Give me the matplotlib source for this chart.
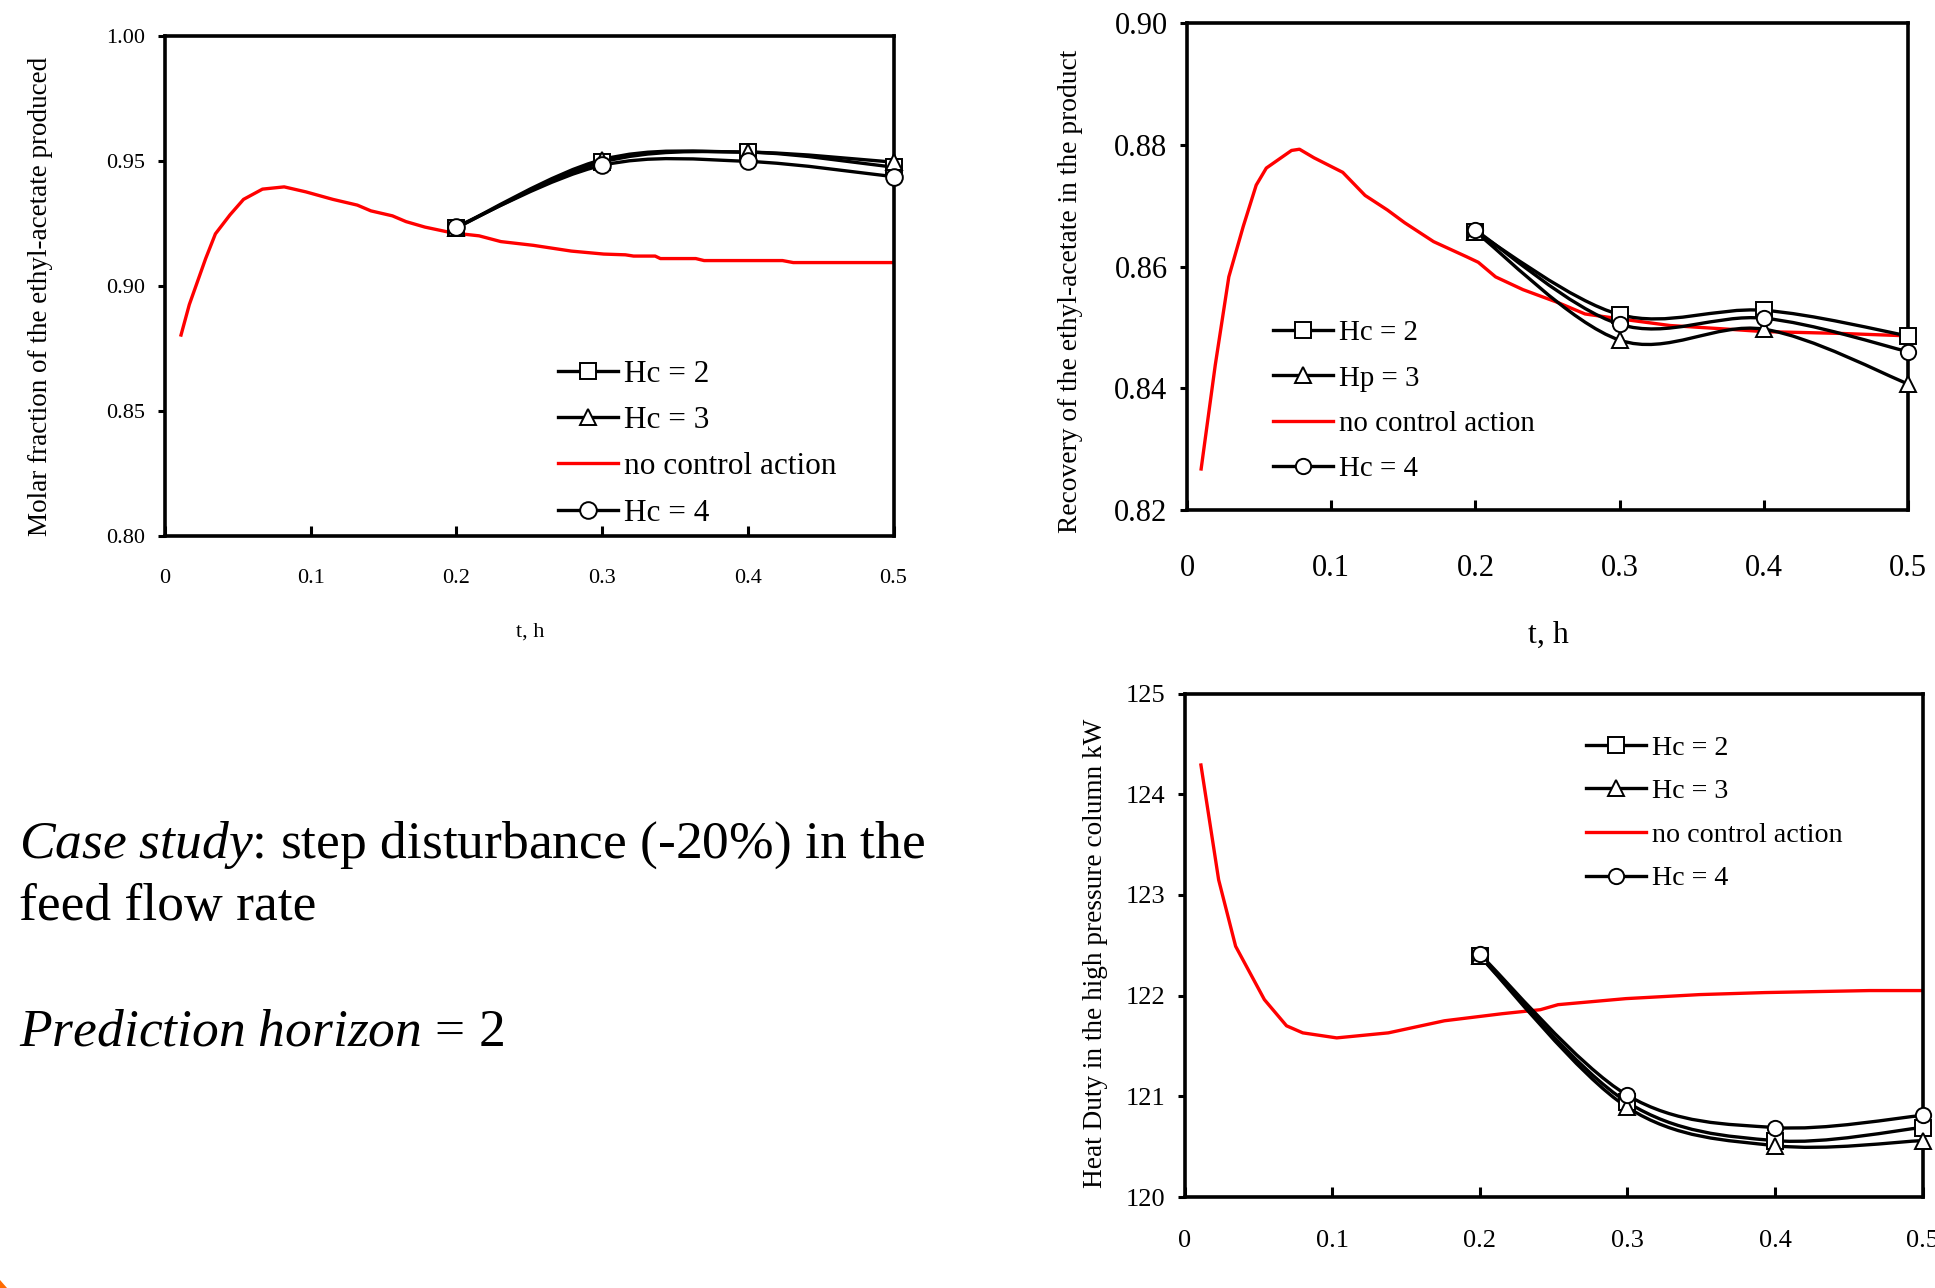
import numpy as np
import matplotlib
matplotlib.use('Agg')
import matplotlib.pyplot as plt
from matplotlib.path import Path
from matplotlib.patches import PathPatch, Polygon
from matplotlib.lines import Line2D

plt.rcParams['font.family'] = ['Liberation Serif', 'DejaVu Serif']
plt.rcParams['mathtext.fontset'] = 'custom'
plt.rcParams['mathtext.rm'] = 'Liberation Serif'
plt.rcParams['mathtext.it'] = 'Liberation Serif:italic'

# ---------------- data ----------------
t_ctrl = [0.2, 0.3, 0.4, 0.5]
x_ticks = [0, 0.1, 0.2, 0.3, 0.4, 0.5]
x_ticklabels = ['0', '0.1', '0.2', '0.3', '0.4', '0.5']

# Chart 1: molar fraction
t1_red = [0.011, 0.0167, 0.0223, 0.0279, 0.0346, 0.0446, 0.0539, 0.0669, 0.0818,
          0.0967, 0.1152, 0.132, 0.1413, 0.1561, 0.1654, 0.1784, 0.197, 0.2156,
          0.2305, 0.2528, 0.2788, 0.3011, 0.316, 0.3216, 0.3364, 0.34, 0.3643,
          0.37, 0.4238, 0.4312, 0.5]
y1_red = [0.8803, 0.8925, 0.9017, 0.9109, 0.9208, 0.9284, 0.9346, 0.9387, 0.9396,
          0.9376, 0.9346, 0.9323, 0.9300, 0.9280, 0.9257, 0.9235, 0.9212, 0.9200,
          0.9177, 0.9162, 0.9139, 0.9127, 0.9124, 0.9119, 0.9119, 0.9109, 0.9109,
          0.9101, 0.9101, 0.9093, 0.9093]
y1_hc2 = [0.9233, 0.9495, 0.9535, 0.9475]
y1_hc3 = [0.9233, 0.9505, 0.9535, 0.9495]
y1_hc4 = [0.9237, 0.9482, 0.9498, 0.9437]
y1_ticks = [0.80, 0.85, 0.90, 0.95, 1.00]
y1_ticklabels = ['0.80', '0.85', '0.90', '0.95', '1.00']

# Chart 2: recovery
t2_red = [0.0098, 0.0196, 0.029, 0.039, 0.048, 0.055, 0.0725, 0.078, 0.088, 0.108,
          0.1235, 0.139, 0.151, 0.171, 0.194, 0.202, 0.214, 0.233, 0.257, 0.276,
          0.3, 0.335, 0.375, 0.4, 0.453, 0.5]
y2_red = [0.8267, 0.8438, 0.8583, 0.8666, 0.8734, 0.8762, 0.8791, 0.8793, 0.8779,
          0.8755, 0.8717, 0.8693, 0.8672, 0.8641, 0.8616, 0.8607, 0.8583, 0.8562,
          0.8541, 0.8522, 0.8514, 0.8503, 0.8497, 0.8493, 0.8490, 0.8486]
y2_hc2 = [0.8657, 0.8521, 0.8528, 0.8486]
y2_hp3 = [0.8657, 0.8479, 0.8497, 0.8407]
y2_hc4 = [0.8660, 0.8505, 0.8515, 0.8460]
y2_ticks = [0.82, 0.84, 0.86, 0.88, 0.90]
y2_ticklabels = ['0.82', '0.84', '0.86', '0.88', '0.90']

# Chart 3: heat duty
t3_red = [0.011, 0.023, 0.0345, 0.054, 0.069, 0.08, 0.103, 0.138, 0.176, 0.215,
          0.241, 0.253, 0.299, 0.349, 0.393, 0.464, 0.5]
y3_red = [124.29, 123.15, 122.49, 121.96, 121.70, 121.63, 121.58, 121.63, 121.75,
          121.82, 121.86, 121.91, 121.97, 122.01, 122.03, 122.05, 122.05]
y3_hc2 = [122.39, 120.94, 120.56, 120.69]
y3_hc3 = [122.39, 120.89, 120.51, 120.56]
y3_hc4 = [122.41, 121.01, 120.69, 120.81]
y3_ticks = [120, 121, 122, 123, 124, 125]
y3_ticklabels = ['120', '121', '122', '123', '124', '125']

labels_1 = ['Hc = 2', 'Hc = 3', 'no control action', 'Hc = 4']
labels_2 = ['Hc = 2', 'Hp = 3', 'no control action', 'Hc = 4']
labels_3 = ['Hc = 2', 'Hc = 3', 'no control action', 'Hc = 4']

# ---------------- layout ----------------
W, H = 1935, 1288
fig = plt.figure(figsize=(W / 100, H / 100), dpi=100)
fig.patch.set_facecolor('white')


def fbox(l, t, r, b):
    return [l / W, 1 - b / H, (r - l) / W, (b - t) / H]


LW_BLACK = 2.4
LW_RED = 2.4
MEW = 1.4


def smooth_path(xs, ys):
    P = np.column_stack([xs, ys]).astype(float)
    n = len(P)
    verts = [P[0]]
    codes = [Path.MOVETO]
    for i in range(n - 1):
        p0 = P[i - 1] if i > 0 else P[i]
        p1 = P[i]
        p2 = P[i + 1]
        p3 = P[i + 2] if i + 2 < n else P[i + 1]
        verts += [p1 + (p2 - p0) / 6, p2 - (p3 - p1) / 6, p2]
        codes += [Path.CURVE4] * 3
    return Path(verts, codes)


def draw_chart(ax, t_red, y_red, series, markers, labels, ms,
               yticks, yticklabels, ylim, tick_fs, ylabel, ylabel_fs, ylab_xy,
               xlabel, xlabel_fs, xlab_xy, leg_xy, leg_fs, leg_spacing, xpad):
    ax.plot(t_red, y_red, color='#ff0000', lw=LW_RED, zorder=2)
    for ys in series:
        ax.add_patch(PathPatch(smooth_path(t_ctrl, ys), fill=False, edgecolor='black',
                               lw=LW_BLACK, zorder=3, capstyle='round'))
    for ys, m in zip(series, markers):
        ax.plot(t_ctrl, ys, ls='none', marker=m, ms=ms, mfc='white', mec='black',
                mew=MEW, zorder=4, clip_on=False)
    ax.set_xlim(0, 0.5)
    ax.set_ylim(*ylim)
    ax.set_xticks(x_ticks)
    ax.set_xticklabels(x_ticklabels)
    ax.set_yticks(yticks)
    ax.set_yticklabels(yticklabels)
    for s in ax.spines.values():
        s.set_linewidth(2.6)
    ax.tick_params(axis='x', direction='in', length=7, width=2.2, labelsize=tick_fs,
                   pad=xpad, top=False)
    ax.tick_params(axis='y', direction='out', length=5, width=2.2, labelsize=tick_fs,
                   pad=9, right=False)
    ax.set_ylabel(ylabel, fontsize=ylabel_fs, va='center')
    ax.yaxis.set_label_coords(*ylab_xy)
    ax.set_xlabel(xlabel, fontsize=xlabel_fs, va='center')
    ax.xaxis.set_label_coords(*xlab_xy)
    hs = []
    for m in markers:
        hs.append(Line2D([], [], color='black', lw=LW_BLACK, marker=m, ms=ms,
                         mfc='white', mec='black', mew=MEW))
    hred = Line2D([], [], color='#ff0000', lw=LW_RED)
    handles = [hs[0], hs[1], hred, hs[2]]
    hl = 60 / (leg_fs * 100 / 72)
    ax.legend(handles, labels, loc='upper left',
              bbox_to_anchor=(leg_xy[0] / W, 1 - leg_xy[1] / H),
              bbox_transform=fig.transFigure, frameon=False, fontsize=leg_fs,
              handlelength=hl, handletextpad=0.2, labelspacing=leg_spacing,
              borderpad=0, borderaxespad=0, numpoints=1)


# Chart 1
ax1 = fig.add_axes(fbox(165, 36, 893.5, 535.6))
draw_chart(ax1, t1_red, y1_red, [y1_hc2, y1_hc3, y1_hc4], ['s', '^', 'o'], labels_1, 12,
           y1_ticks, y1_ticklabels, (0.80, 1.00), 16,
           'Molar fraction of the ethyl-acetate produced', 19.5, (-0.1705, 0.479),
           't, h', 16, (0.5016, -0.193), (558, 360), 22.5, 0.55, 24)

# Chart 2
ax2 = fig.add_axes(fbox(1187, 23.4, 1908, 509.7))
draw_chart(ax2, t2_red, y2_red, [y2_hc2, y2_hp3, y2_hc4], ['s', '^', 'o'], labels_2, 11,
           y2_ticks, y2_ticklabels, (0.82, 0.90), 22,
           'Recovery of the ethyl-acetate in the product', 19.8, (-0.161, 0.4497),
           't, h', 23, (0.5017, -0.2587), (1273, 320), 20.8, 0.66, 32)

# Chart 3
ax3 = fig.add_axes(fbox(1184.7, 693.5, 1922.6, 1197))
draw_chart(ax3, t3_red, y3_red, [y3_hc2, y3_hc3, y3_hc4], ['s', '^', 'o'], labels_3, 11,
           y3_ticks, y3_ticklabels, (120, 125), 19,
           'Heat Duty in the high pressure column kW', 19.6, (-0.1215, 0.4846),
           't, h', 23, (0.51, -0.212), (1586, 735), 20.2, 0.64, 24)

# Body text
fig.text(18.5 / W, 1 - 858 / H, r'$\mathit{Case\ study}$: step disturbance (-20%) in the',
         fontsize=38.5, va='baseline', ha='left')
fig.text(18.5 / W, 1 - 920 / H, 'feed flow rate', fontsize=38.5, va='baseline', ha='left')
fig.text(18.5 / W, 1 - 1046 / H, r'$\mathit{Prediction\ horizon}$ = 2',
         fontsize=38.5, va='baseline', ha='left')

# small orange corner mark
fig.patches.append(Polygon([[0, 1 - 1280 / H], [7 / W, 0], [0, 0]], closed=True,
                           transform=fig.transFigure, facecolor='#ff6a00',
                           edgecolor='none'))

fig.savefig('out.png', dpi=100)
